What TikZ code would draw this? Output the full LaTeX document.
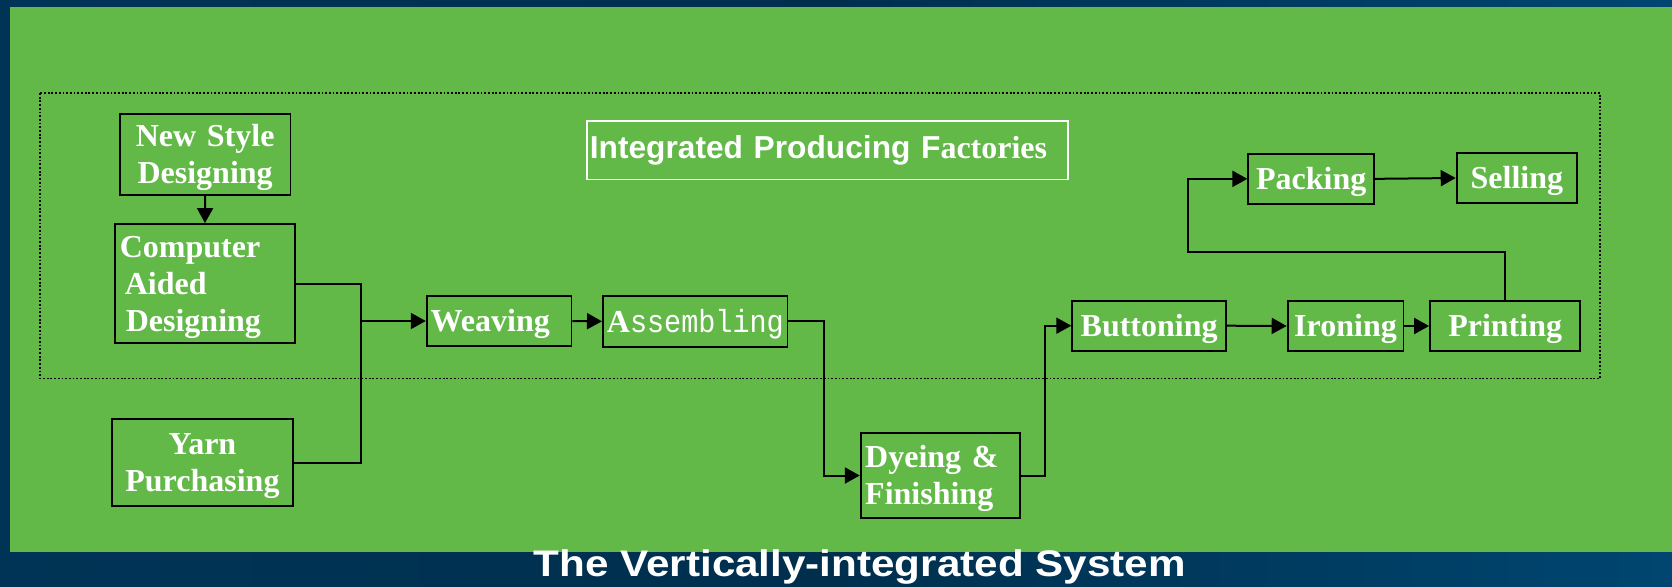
\documentclass[tikz,border=0pt]{standalone}
\usepackage{fontspec}
\setmainfont{Liberation Serif}
\newfontfamily\arialfont{Liberation Sans}
\newfontfamily\captionfont{Liberation Sans}[FakeStretch=1.14]
\newfontfamily\songfont{Liberation Mono}[FakeStretch=0.89]
\usetikzlibrary{arrows.meta}
\definecolor{slidegreen}{RGB}{98,185,72}
\definecolor{navyleft}{RGB}{0,52,86}
\definecolor{navymid}{RGB}{0,47,78}
\definecolor{navyright}{RGB}{0,70,112}
\begin{document}
\begin{tikzpicture}[x=1pt,y=-1pt,
  stage/.style={draw=black, line width=1.8pt, text=white,
    font=\bfseries\fontsize{32}{37}\selectfont, inner sep=0pt, align=center,
    execute at begin node={\rule{0pt}{28pt}}},
  flow/.style={draw=black, line width=2pt, -{Triangle[length=15pt,width=16pt]}},
  link/.style={draw=black, line width=2pt},
  frame/.style={draw=black, line width=1.5pt, dash pattern=on 1.8pt off 1.9pt}]

% slide background and green panel
\useasboundingbox (0,0) rectangle (1672,586);
\shade[left color=navyleft, right color=navyright, middle color=navymid] (0,0) rectangle (1672,586);
\fill[slidegreen] (10,7) rectangle (1672,552);

% dotted frame around the factory stages
\draw[frame] (40,93) rectangle (1600,378.5);

% heading box
\node[draw=white, line width=1.4pt, text=white, inner xsep=3pt, inner ysep=0pt,
      text width=475pt, align=left, minimum height=58.3pt,
      font=\bfseries\fontsize{32}{36}\selectfont] (ipf) at (827.35,150.15)
  {{\arialfont\fontsize{31.7}{36}\selectfont Integrated Producing F}actories};

% process stages
\node[stage, text width=170.7pt, minimum height=80.4pt] (nsd) at (205.15,154.5) {New Style\\Designing};
\node[stage, minimum height=119.3pt, align=left, text width=170.3pt, inner xsep=5pt] (cad) at (204.95,283.65)
  {Computer\\\hspace*{5pt}Aided\\\hspace*{6pt}Designing};
\node[stage, text width=180.7pt, minimum height=86.7pt] (yarn) at (202.45,462.65) {Yarn\\Purchasing};
\node[stage, minimum height=50pt, align=left, text width=136.7pt, inner xsep=4pt] (weave) at (499.05,321) {Weaving};
\node[stage, minimum height=50.7pt, align=left, text width=176.6pt, inner xsep=4pt] (asm) at (695.2,321.35)
  {A{\songfont\mdseries ssembling}};
\node[stage, minimum height=85.6pt, align=left, text width=149.9pt, inner xsep=4.5pt] (dye) at (940.15,475.5)
  {Dyeing \&\\Finishing};
\node[stage, minimum width=153.9pt, minimum height=50pt] (btn) at (1149.15,325.7) {Buttoning};
\node[stage, minimum width=115.8pt, minimum height=50pt] (iron) at (1345.5,326) {Ironing};
\node[stage, minimum width=150.3pt, minimum height=50pt] (print) at (1505.15,326) {Printing};
\node[stage, minimum width=125.8pt, minimum height=50.3pt] (pack) at (1311.2,178.85) {Packing};
\node[stage, minimum width=120.6pt, minimum height=50pt] (sell) at (1516.9,178) {Selling};

% routing points
\coordinate (j) at (361,321);
\coordinate (t1) at (824,0);
\coordinate (t2) at (1045.4,0);
\coordinate (t3) at (1188.4,252.3);

% connectors
\draw[flow] (nsd.south) -- (cad.north);
\draw[link] (cad.east) -| (j);
\draw[link] (yarn.east) -| (j);
\draw[flow] (j) -- (weave.west);
\draw[flow] (weave.east) -- (asm.west);
\draw[flow] (asm.east) -- (asm.east -| t1) |- (dye.west);
\draw[flow] (dye.east) -- (dye.east -| t2) |- (btn.west);
\draw[flow] (btn.east) -- (iron.west);
\draw[flow] (iron.east) -- (print.west);
\draw[flow] (print.north) |- (t3) |- (pack.west);
\draw[flow] (pack.east) -- (sell.west);

% caption
\node[text=white, font=\captionfont\bfseries\fontsize{37}{40}\selectfont, anchor=base, inner sep=0pt]
  (caption) at (859.7,576.7) {The Vertically-integrated System};
\end{tikzpicture}
\end{document}
